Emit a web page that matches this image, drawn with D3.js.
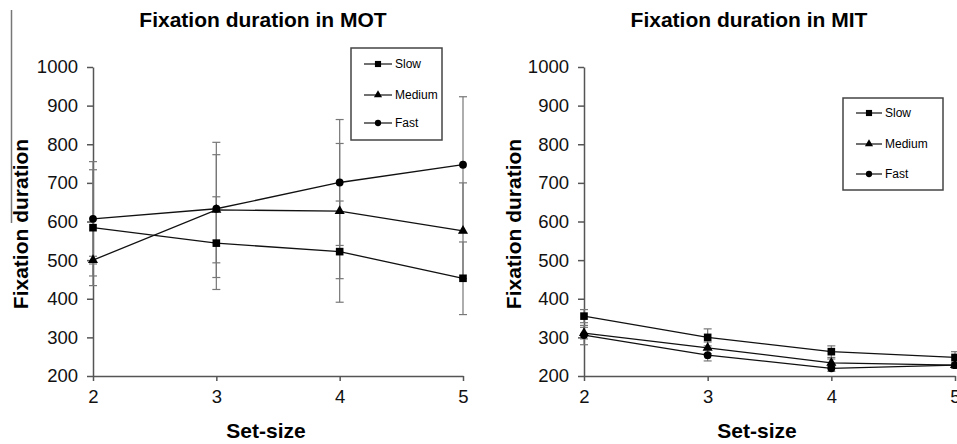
<!DOCTYPE html>
<html>
<head>
<meta charset="utf-8">
<script src="https://cdn.jsdelivr.net/npm/d3@7"></script>
<style>
  body { margin: 0; background: #fff; }
  text { font-family: "Liberation Sans", Arial, sans-serif; }
</style>
</head>
<body>
<div id="chart"></div>
<script>
// data
var setSizes = [2, 3, 4, 5];
var speeds = ["Slow", "Medium", "Fast"];
var yTicks = [200, 300, 400, 500, 600, 700, 800, 900, 1000];

var motSlow = [584, 544, 522, 453];
var motMedium = [500, 630, 627, 576];
var motFast = [607, 633, 701, 747];
var motSlowErr = [150, 120, 131, 94];
var motMediumErr = [10, 175, 175, 124];
var motFastErr = [148, 140, 163, 176];

var mitSlow = [355, 300, 263, 248];
var mitMedium = [311, 273, 234, 228];
var mitFast = [306, 254, 220, 228];
var mitSlowErr = [17, 22, 15, 15];
var mitMediumErr = [15, 15, 10, 8];
var mitFastErr = [25, 15, 8, 5];

var svg = d3.select("#chart")
  .append("svg")
    .attr("width", 957)
    .attr("height", 444);

// stray frame line on the left edge of the scan
svg.append("path")
  .attr("d", "M11.5,10V223")
  .attr("stroke", "#777")
  .attr("stroke-width", 1.5)
  .attr("fill", "none");

var symbols = { Slow: d3.symbolSquare, Medium: d3.symbolTriangle, Fast: d3.symbolCircle };
var symbolSize = { Slow: 58, Medium: 44, Fast: 48 };

function drawPanel(opt) {
  var x = d3.scaleLinear().domain([2, 5]).range([opt.x0, opt.x1]);
  var y = d3.scaleLinear().domain([200, 1000]).range([376, 67]);

  var series = [
    { name: "Slow", values: opt.slow, err: opt.slowErr },
    { name: "Medium", values: opt.medium, err: opt.mediumErr },
    { name: "Fast", values: opt.fast, err: opt.fastErr }
  ];

  // title
  svg.append("text")
    .attr("x", opt.titleX)
    .attr("y", 27)
    .attr("text-anchor", "middle")
    .style("font-size", "21px")
    .style("font-weight", "bold")
    .text(opt.title);

  // y axis
  var yAxis = svg.append("g")
    .attr("transform", "translate(" + opt.x0 + ",0)")
    .call(d3.axisLeft(y).tickValues(yTicks).tickFormat(d3.format("d")).tickSize(6).tickSizeOuter(0).tickPadding(9));
  // x axis
  var xAxis = svg.append("g")
    .attr("transform", "translate(0,376)")
    .call(d3.axisBottom(x).tickValues(setSizes).tickFormat(d3.format("d")).tickSize(5).tickSizeOuter(0).tickPadding(9));

  [yAxis, xAxis].forEach(function(a) {
    a.selectAll("path, line").attr("stroke", "#555").attr("stroke-width", 1.5);
    a.selectAll("text").style("font-size", "18.5px").attr("fill", "#111");
  });

  // axis titles
  svg.append("text")
    .attr("transform", "translate(" + opt.yLabelX + ",224)rotate(-90)")
    .attr("text-anchor", "middle")
    .style("font-size", "21px")
    .style("font-weight", "bold")
    .text("Fixation duration");

  svg.append("text")
    .attr("x", opt.xLabelX)
    .attr("y", 438)
    .attr("text-anchor", "middle")
    .style("font-size", "21px")
    .style("font-weight", "bold")
    .text("Set-size");

  // error bars
  series.forEach(function(s) {
    var g = svg.append("g").attr("stroke", "#777").attr("stroke-width", 1.2);
    setSizes.forEach(function(k, i) {
      var cx = x(k), hi = y(s.values[i] + s.err[i]), lo = y(s.values[i] - s.err[i]);
      g.append("line").attr("x1", cx).attr("x2", cx).attr("y1", hi).attr("y2", lo);
      g.append("line").attr("x1", cx - 4).attr("x2", cx + 4).attr("y1", hi).attr("y2", hi);
      g.append("line").attr("x1", cx - 4).attr("x2", cx + 4).attr("y1", lo).attr("y2", lo);
    });
  });

  // lines and markers
  var line = d3.line()
    .x(function(d, i) { return x(setSizes[i]); })
    .y(function(d) { return y(d); });

  series.forEach(function(s) {
    svg.append("path")
      .datum(s.values)
      .attr("d", line)
      .attr("fill", "none")
      .attr("stroke", "#111")
      .attr("stroke-width", 1.3);
    svg.selectAll(null)
      .data(s.values)
      .enter()
      .append("path")
        .attr("transform", function(d, i) { return "translate(" + x(setSizes[i]) + "," + y(d) + ")"; })
        .attr("d", d3.symbol().type(symbols[s.name]).size(symbolSize[s.name]))
        .attr("fill", "#000");
  });

  // legend
  var L = opt.legend;
  var lg = svg.append("g");
  lg.append("rect")
    .attr("x", L.x).attr("y", L.y)
    .attr("width", L.w).attr("height", L.h)
    .attr("fill", "#fff")
    .attr("stroke", "#444")
    .attr("stroke-width", 1.5);
  speeds.forEach(function(name, i) {
    var ry = L.rows[i];
    lg.append("line")
      .attr("x1", L.lineX0).attr("x2", L.lineX1)
      .attr("y1", ry).attr("y2", ry)
      .attr("stroke", "#111").attr("stroke-width", 1.2);
    lg.append("path")
      .attr("transform", "translate(" + (L.lineX0 + L.lineX1) / 2 + "," + ry + ")")
      .attr("d", d3.symbol().type(symbols[name]).size(symbolSize[name] * 0.65))
      .attr("fill", "#000");
    lg.append("text")
      .attr("x", L.lineX1 + 3)
      .attr("y", ry)
      .attr("dy", "0.35em")
      .style("font-size", "12px")
      .text(name);
  });
}

drawPanel({
  title: "Fixation duration in MOT",
  titleX: 263, x0: 93, x1: 463, yLabelX: 28, xLabelX: 266,
  slow: motSlow, medium: motMedium, fast: motFast,
  slowErr: motSlowErr, mediumErr: motMediumErr, fastErr: motFastErr,
  legend: { x: 351, y: 48, w: 91, h: 92, lineX0: 364, lineX1: 392, rows: [64, 95, 123] }
});

drawPanel({
  title: "Fixation duration in MIT",
  titleX: 749, x0: 584, x1: 955, yLabelX: 521, xLabelX: 757,
  slow: mitSlow, medium: mitMedium, fast: mitFast,
  slowErr: mitSlowErr, mediumErr: mitMediumErr, fastErr: mitFastErr,
  legend: { x: 843, y: 98, w: 100, h: 92, lineX0: 856, lineX1: 882, rows: [113, 144, 174] }
});
</script>
</body>
</html>
